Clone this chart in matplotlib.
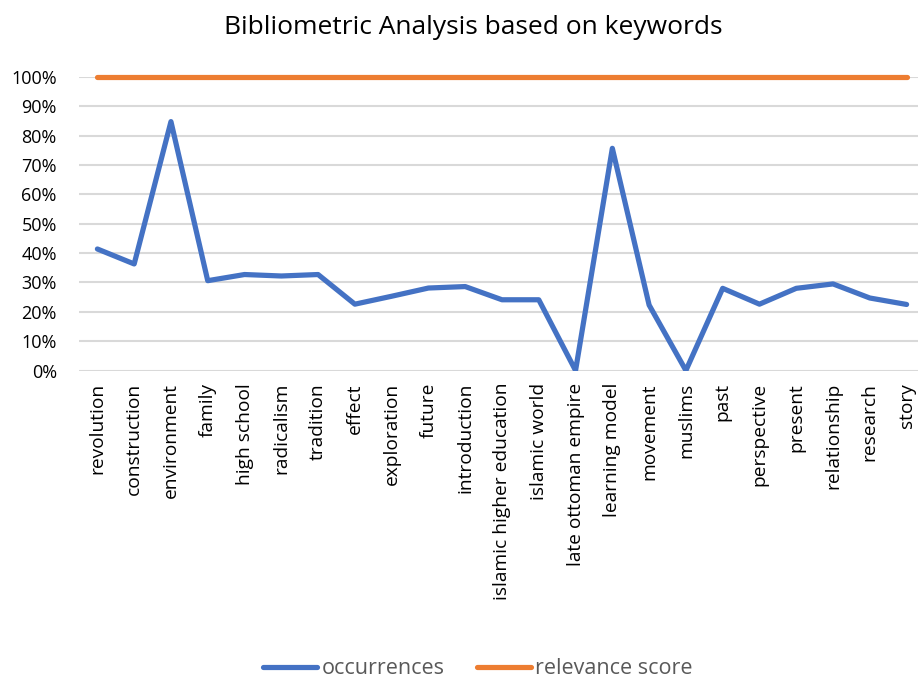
import matplotlib.pyplot as plt
from matplotlib.ticker import PercentFormatter

plt.rcParams['font.family'] = ['Open Sans', 'DejaVu Sans']

# keyword categories
keywords = ['revolution', 'construction', 'environment', 'family', 'high school',
            'radicalism', 'tradition', 'effect', 'exploration', 'future',
            'introduction', 'islamic higher education', 'islamic world',
            'late ottoman empire', 'learning model', 'movement', 'muslims',
            'past', 'perspective', 'present', 'relationship', 'research', 'story']

# share of occurrences
occurrences = [0.414, 0.363, 0.848, 0.306, 0.327, 0.322, 0.327, 0.226, 0.253,
               0.281, 0.286, 0.241, 0.241, 0.0, 0.757, 0.223, 0.0, 0.280,
               0.226, 0.280, 0.295, 0.247, 0.225]

# relevance score is 100% for every keyword
relevance = [1.0] * len(keywords)

fig = plt.figure(figsize=(9.18, 6.82), dpi=100)
ax = fig.add_axes([79 / 918, 311.5 / 682, (918 - 79) / 918, 293.5 / 682])

x = list(range(len(keywords)))
ax.plot(x, occurrences, color='#4472C4', linewidth=3.75, solid_joinstyle='round',
        solid_capstyle='round', label='occurrences', zorder=3)
ax.plot(x, relevance, color='#ED7D31', linewidth=3.75, solid_capstyle='round',
        label='relevance score', zorder=3, clip_on=False)

ax.set_ylim(0, 1)
ax.set_xlim(-0.5, 22.31)
ax.set_yticks([i / 10 for i in range(11)])
ax.yaxis.set_major_formatter(PercentFormatter(1.0, decimals=0))
ax.set_xticks(x)
ax.set_xticklabels(keywords, rotation=90, fontsize=13.75)
ax.tick_params(axis='y', labelsize=13, length=0, pad=16)
ax.tick_params(axis='x', length=0, pad=9)

ax.grid(axis='y', color='#D9D9D9', linewidth=1.5, zorder=0)
for s in ax.spines.values():
    s.set_visible(False)

# Titulo
fig.text(473 / 918, 1 - 28 / 682, 'Bibliometric Analysis based on keywords',
         ha='center', va='center', fontsize=19)

leg = fig.legend(loc='center', bbox_to_anchor=(478 / 918, 1 - 669 / 682), ncol=2,
                 frameon=False, fontsize=15.5, handlelength=2.5, handletextpad=0.2,
                 columnspacing=1.5)
for t in leg.get_texts():
    t.set_color('#595959')

fig.savefig('out.png', dpi=100)
